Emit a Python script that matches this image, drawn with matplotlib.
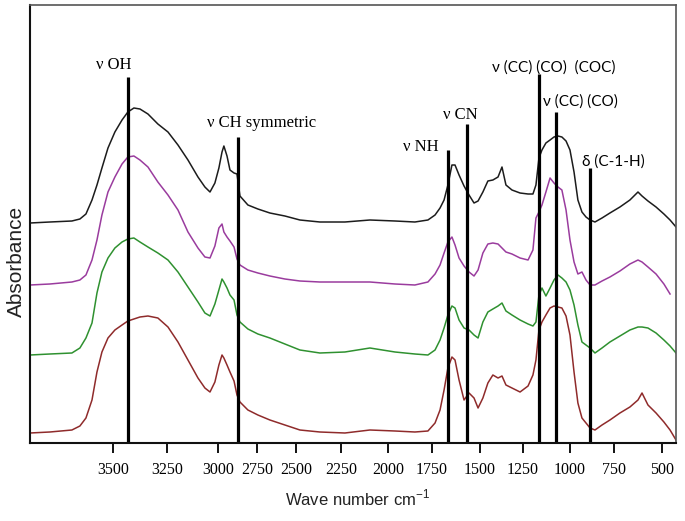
import matplotlib
matplotlib.use('Agg')
import matplotlib.pyplot as plt
import numpy as np

# FTIR spectra, absorbance in arbitrary units (stacked)
wavenumber = [3884, 3792, 3690, 3653, 3625, 3597, 3574, 3551, 3523, 3491,
              3458, 3431, 3403, 3375, 3338, 3292, 3245, 3196, 3147, 3098,
              3064, 3039, 3015, 2994, 2974, 2962, 2942, 2923, 2897, 2878,
              2859, 2808, 2744, 2667, 2571, 2478, 2367, 2229, 2096, 1960,
              1847, 1773, 1734, 1708, 1687, 1667, 1646, 1630, 1609, 1583,
              1557, 1531, 1510, 1483, 1454, 1425, 1395, 1372, 1349, 1314,
              1267, 1223, 1197, 1181, 1165, 1149, 1128, 1106, 1085, 1064,
              1043, 1021, 1000, 977, 955, 932, 909, 886, 858, 818,
              773, 719, 667, 625, 604, 573, 531, 490, 458, 427]

black = [2.20, 2.21, 2.22, 2.24, 2.29, 2.43, 2.58, 2.75, 2.95, 3.11,
         3.23, 3.31, 3.35, 3.34, 3.29, 3.19, 3.11, 2.98, 2.83, 2.66,
         2.56, 2.51, 2.60, 2.75, 2.91, 2.97, 2.87, 2.73, 2.70, 2.69,
         2.47, 2.38, 2.34, 2.30, 2.27, 2.23, 2.21, 2.21, 2.23, 2.22,
         2.21, 2.23, 2.28, 2.35, 2.43, 2.58, 2.78, 2.78, 2.68, 2.57,
         2.48, 2.40, 2.42, 2.51, 2.62, 2.63, 2.66, 2.76, 2.58, 2.53,
         2.50, 2.49, 2.49, 2.58, 2.85, 2.93, 3.00, 3.03, 3.06, 3.07,
         3.06, 3.02, 2.93, 2.71, 2.43, 2.31, 2.26, 2.23, 2.21, 2.25,
         2.30, 2.36, 2.43, 2.51, 2.47, 2.42, 2.36, 2.29, 2.23, 2.16]

purple = [1.58, 1.59, 1.61, 1.63, 1.68, 1.83, 2.03, 2.28, 2.51, 2.66,
          2.79, 2.86, 2.87, 2.83, 2.76, 2.61, 2.48, 2.33, 2.11, 1.95,
          1.86, 1.85, 1.97, 2.15, 2.19, 2.11, 2.06, 2.02, 1.96, 1.84,
          1.78, 1.73, 1.70, 1.67, 1.64, 1.62, 1.61, 1.61, 1.61, 1.59,
          1.58, 1.61, 1.69, 1.78, 1.90, 2.01, 2.06, 1.98, 1.85, 1.77,
          1.71, 1.67, 1.73, 1.90, 1.99, 2.00, 1.99, 1.95, 1.91, 1.89,
          1.85, 1.83, 1.93, 2.25, 2.31, 2.38, 2.51, 2.65, 2.60, 2.56,
          2.53, 2.33, 2.03, 1.81, 1.69, 1.71, 1.63, 1.58, 1.58, 1.62,
          1.66, 1.72, 1.79, 1.83, 1.81, 1.76, 1.69, 1.59, 1.49, np.nan]

green = [0.88, 0.89, 0.90, 0.95, 1.05, 1.20, 1.50, 1.71, 1.85, 1.95,
         2.01, 2.04, 2.05, 2.01, 1.96, 1.90, 1.83, 1.71, 1.56, 1.41,
         1.30, 1.27, 1.39, 1.53, 1.64, 1.61, 1.55, 1.48, 1.43, 1.28,
         1.21, 1.14, 1.09, 1.05, 0.99, 0.93, 0.90, 0.91, 0.95, 0.91,
         0.89, 0.88, 0.93, 1.03, 1.15, 1.28, 1.37, 1.35, 1.23, 1.15,
         1.13, 1.08, 1.05, 1.21, 1.31, 1.34, 1.37, 1.40, 1.32, 1.28,
         1.23, 1.19, 1.17, 1.21, 1.48, 1.55, 1.47, 1.55, 1.63, 1.68,
         1.65, 1.61, 1.53, 1.38, 1.18, 1.01, 0.98, 0.95, 0.90, 0.95,
         1.01, 1.07, 1.13, 1.16, 1.16, 1.15, 1.10, 1.03, 0.97, 0.90]

red = [0.10, 0.11, 0.13, 0.17, 0.25, 0.43, 0.71, 0.91, 1.05, 1.13,
       1.18, 1.22, 1.24, 1.26, 1.27, 1.25, 1.16, 1.01, 0.83, 0.65,
       0.55, 0.51, 0.61, 0.78, 0.88, 0.85, 0.78, 0.71, 0.62, 0.48,
       0.41, 0.33, 0.28, 0.23, 0.18, 0.13, 0.11, 0.10, 0.13, 0.12,
       0.11, 0.12, 0.20, 0.33, 0.53, 0.75, 0.86, 0.83, 0.63, 0.43,
       0.50, 0.45, 0.35, 0.45, 0.60, 0.68, 0.65, 0.67, 0.58, 0.55,
       0.51, 0.57, 0.68, 0.83, 1.13, 1.21, 1.28, 1.35, 1.37, 1.36,
       1.35, 1.27, 1.08, 0.71, 0.40, 0.25, 0.20, 0.15, 0.13, 0.18,
       0.23, 0.30, 0.36, 0.43, 0.50, 0.38, 0.30, 0.21, 0.13, 0.03]

# band assignments: label, wavenumber of marker line, top of marker line
band_labels = ['\u03bd OH', '\u03bd CH symmetric', '\u03bd NH', '\u03bd CN',
               '\u03bd (CC) (CO)  (COC)', '\u03bd (CC) (CO)', '\u03b4 (C-1-H)']
band_wn = [3430, 2870, 1665, 1570, 1165, 1075, 885]
band_top = [3.66, 3.06, 2.93, 3.19, 3.69, 3.31, 2.75]

tick_values = [3500, 3250, 3000, 2750, 2500, 2250, 2000, 1750, 1500, 1250, 1000, 750, 500]

# the original axis is not quite linear, so map the ticks piecewise
knot_wn = np.array([4000, 3500, 3250, 3000, 2750, 2500, 2250, 2000, 1750, 1500, 1250, 1000, 750, 500, 0])
knot_pos = np.array([5, 113, 167, 218, 257, 296, 341, 388, 432, 480, 523, 570, 614, 662, 758])


def forward(w):
    return -np.interp(w, knot_wn[::-1], knot_pos[::-1])


def inverse(f):
    return np.interp(-np.asarray(f), knot_pos, knot_wn)


def main():
    fig = plt.figure(figsize=(6.85, 5.21), dpi=100)
    ax = fig.add_axes([30 / 685, 78 / 521, 646 / 685, 438 / 521])
    ax.set_xscale('function', functions=(forward, inverse))

    lw = 1.1
    ax.plot(wavenumber, black, color='#1c1c1c', lw=lw)
    ax.plot(wavenumber, purple, color='#9a3c9e', lw=lw)
    ax.plot(wavenumber, green, color='#2f9130', lw=lw)
    ax.plot(wavenumber, red, color='#8f2b2b', lw=lw)

    serif = 'Liberation Serif'
    sans = ['Lato', 'DejaVu Sans']
    label_pos = [(3495, 3.78, serif, 12), (2718, 3.20, serif, 12),
                 (1812, 2.96, serif, 12), (1604, 3.28, serif, 12),
                 (1085, 3.75, sans, 11), (938, 3.41, sans, 11),
                 (755, 2.81, sans, 11)]
    for wn, top, text, (tx, ty, fam, fs) in zip(band_wn, band_top, band_labels, label_pos):
        ax.vlines(wn, 0, top, color='black', lw=2.3)
        ax.text(tx, ty, text, ha='center', va='center', family=fam, fontsize=fs)

    ax.set_xlim(3884, 427)
    ax.set_ylim(0, 4.38)
    ax.set_xticks(tick_values)
    ax.set_xticklabels([str(t) for t in tick_values], family=serif, fontsize=11.5)
    ax.set_yticks([])
    ax.tick_params(axis='x', direction='out', length=7, width=1.3, pad=7)
    ax.minorticks_off()

    for side in ['left', 'bottom']:
        ax.spines[side].set_linewidth(1.5)
        ax.spines[side].set_color('#111111')
    for side in ['top', 'right']:
        ax.spines[side].set_linewidth(1.2)
        ax.spines[side].set_color('#555555')

    fig.text(358 / 685, 1 - 498 / 521, r'Wave number cm$^{\mathregular{-1}}$',
             ha='center', va='center', family='Liberation Sans', fontsize=12, color='#222222')
    fig.text(16 / 685, 1 - 261 / 521, 'Absorbance', rotation=90,
             ha='center', va='center', family='Liberation Sans', fontsize=15, color='#222222')

    fig.savefig('out.png', dpi=100)


if __name__ == '__main__':
    main()
